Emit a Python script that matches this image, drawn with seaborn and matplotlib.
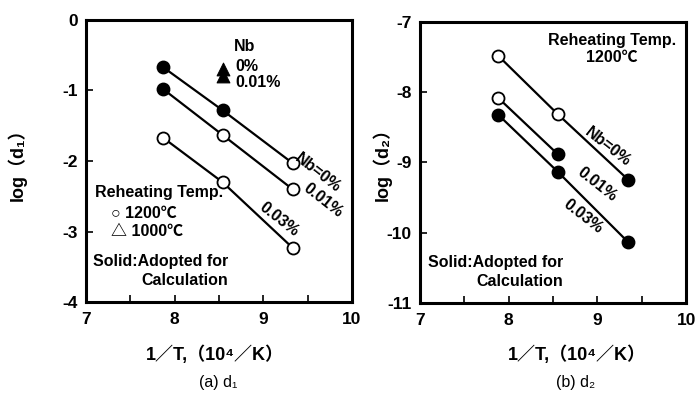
import matplotlib
matplotlib.use("Agg")
import matplotlib.pyplot as plt
import seaborn as sns
import pandas as pd
import numpy as np

sns.set_theme(style="white")
plt.rcParams['font.family'] = ['Liberation Sans', 'Noto Sans CJK JP', 'DejaVu Sans']
plt.rcParams['font.weight'] = 'bold'
plt.rcParams['axes.unicode_minus'] = False
plt.rcParams['text.color'] = 'black'
plt.rcParams['xtick.color'] = 'black'
plt.rcParams['ytick.color'] = 'black'
plt.rcParams['axes.labelcolor'] = 'black'

# ---- data: panel (a) d1 ----
x_a = [7.87, 8.54, 9.33]
a_nb0 = [-0.67, -1.28, -2.03]
a_nb0_solid = [True, True, False]
a_nb001 = [-0.98, -1.63, -2.40]
a_nb001_solid = [True, False, False]
a_nb003 = [-1.67, -2.30, -3.23]
a_nb003_solid = [False, False, False]
tri_x = [8.54, 8.54]
tri_y = [-0.70, -0.80]  # 1000C, Nb 0% and 0.01%

# ---- data: panel (b) d2 ----
x_b = [7.88, 8.55, 9.35]
b_nb0 = [-7.48, -8.31, -9.25]
b_nb0_solid = [False, False, True]
b_nb001 = [-8.08, -8.88]
b_nb001_solid = [False, True]
b_nb003 = [-8.32, -9.13, -10.14]
b_nb003_solid = [True, True, True]

xticks = [7, 8, 9, 10]
yticks_a = [0, -1, -2, -3, -4]
yticks_b = [-7, -8, -9, -10, -11]

def make_df(xs, ys, solids, name):
    return pd.DataFrame({"x": xs, "y": ys, "solid": solids, "series": name})

df_a = pd.concat([
    make_df(x_a, a_nb0, a_nb0_solid, "0%"),
    make_df(x_a, a_nb001, a_nb001_solid, "0.01%"),
    make_df(x_a, a_nb003, a_nb003_solid, "0.03%"),
], ignore_index=True)
df_b = pd.concat([
    make_df(x_b, b_nb0, b_nb0_solid, "0%"),
    make_df(x_b[:len(b_nb001)], b_nb001, b_nb001_solid, "0.01%"),
    make_df(x_b, b_nb003, b_nb003_solid, "0.03%"),
], ignore_index=True)
df_tri = pd.DataFrame({"x": tri_x, "y": tri_y})

fig = plt.figure(figsize=(6.99, 3.99), dpi=100)
ax1 = fig.add_axes([0.123, 0.243, 0.3805, 0.707])
ax2 = fig.add_axes([0.601, 0.241, 0.3805, 0.704])

FS = 11.5

def draw(ax, df, ylim, yticks):
    for name, g in df.groupby("series", sort=False):
        sns.lineplot(data=g, x="x", y="y", ax=ax, color="black", lw=1.6,
                     estimator=None, sort=False, legend=False, zorder=2)
    sns.scatterplot(data=df[df.solid], x="x", y="y", ax=ax, s=75, color="black",
                    edgecolor="black", linewidth=1.3, legend=False, zorder=3)
    sns.scatterplot(data=df[~df.solid], x="x", y="y", ax=ax, s=75, color="white",
                    edgecolor="black", linewidth=1.3, legend=False, zorder=3)
    ax.set_xlim(7, 10)
    ax.set_ylim(*ylim)
    ax.set_xticks(xticks)
    ax.set_xticks([7.5, 8.5, 9.5], minor=True)
    ax.set_yticks(yticks)
    ax.tick_params(axis="both", which="both", direction="in", length=5, width=1.2,
                   labelsize=12.5, bottom=True, left=True, top=False, right=False,
                   colors="black")
    ax.tick_params(axis="y", pad=6)
    ax.tick_params(axis="x", pad=7)
    for lbl in ax.get_xticklabels() + ax.get_yticklabels():
        lbl.set_fontweight("bold")
    for sp in ax.spines.values():
        sp.set_linewidth(2.2)
        sp.set_color("black")
        sp.set_visible(True)

draw(ax1, df_a, (-4, 0), yticks_a)
draw(ax2, df_b, (-11, -7), yticks_b)

sns.scatterplot(data=df_tri, x="x", y="y", ax=ax1, marker="^", s=85, color="black",
                edgecolor="black", legend=False, zorder=3)
for ax in (ax1, ax2):
    ax.set_xlabel("")
    ax.set_ylabel("")

kw = dict(fontsize=FS, fontweight="bold", color="black")
# panel a annotations
ax1.text(8.79, -0.38, "Nb", ha="center", va="center", **kw)
ax1.text(8.68, -0.66, "0%", ha="left", va="center", **kw)
ax1.text(8.68, -0.88, "0.01%", ha="left", va="center", **kw)
ax1.text(7.1, -2.45, "Reheating Temp.", ha="left", va="center", **kw)
ax1.text(7.28, -2.74, "○ 1200℃", ha="left", va="center", **kw)
ax1.text(7.28, -3.0, "△ 1000℃", ha="left", va="center", **kw)
ax1.text(7.08, -3.42, "Solid:Adopted for", ha="left", va="center", **kw)
ax1.text(7.62, -3.70, "Calculation", ha="left", va="center", **kw)
ax1.text(9.62, -2.17, "Nb=0%", ha="center", va="center", rotation=-38, **kw)
ax1.text(9.67, -2.56, "0.01%", ha="center", va="center", rotation=-38, **kw)
ax1.text(9.18, -2.83, "0.03%", ha="center", va="center", rotation=-38, **kw)

# panel b annotations
ax2.text(9.16, -7.26, "Reheating Temp.", ha="center", va="center", **kw)
ax2.text(9.16, -7.51, "1200℃", ha="center", va="center", **kw)
ax2.text(7.09, -10.43, "Solid:Adopted for", ha="left", va="center", **kw)
ax2.text(7.63, -10.70, "Calculation", ha="left", va="center", **kw)
ax2.text(9.12, -8.78, "Nb=0%", ha="center", va="center", rotation=-38, **kw)
ax2.text(8.99, -9.32, "0.01%", ha="center", va="center", rotation=-38, **kw)
ax2.text(8.84, -9.77, "0.03%", ha="center", va="center", rotation=-38, **kw)

# axis labels as figure text
lab = dict(fontsize=13, fontweight="bold", color="black")
fig.text(17/699, 1 - 160/399, "log（d₁）", rotation=90, ha="center", va="center", **lab)
fig.text(382/699, 1 - 160/399, "log（d₂）", rotation=90, ha="center", va="center", **lab)
fig.text(215/699, 1 - 355/399, "1／T,（10⁴／K）", ha="center", va="center", **lab)
fig.text(577/699, 1 - 355/399, "1／T,（10⁴／K）", ha="center", va="center", **lab)
fig.text(218/699, 1 - 383/399, "(a) d₁", ha="center", va="center",
         fontsize=11.5, fontweight="normal", color="black")
fig.text(576/699, 1 - 383/399, "(b) d₂", ha="center", va="center",
         fontsize=11.5, fontweight="normal", color="black")

fig.savefig("out.png", dpi=100, facecolor="white")
